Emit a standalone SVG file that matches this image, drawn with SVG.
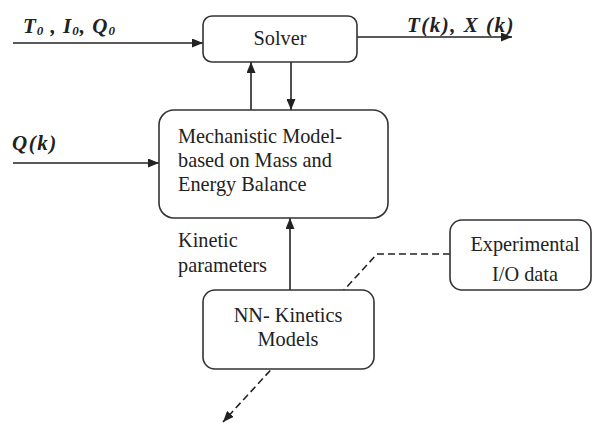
<svg xmlns="http://www.w3.org/2000/svg" width="593" height="423" viewBox="0 0 593 423">
<style>
.box{fill:#fff;stroke:#333;stroke-width:1.6}
.t{font-family:"Liberation Serif","Times New Roman",serif;font-size:20.3px;fill:#222}
.m{font-family:"Liberation Serif","Times New Roman",serif;font-size:21px;font-weight:bold;font-style:italic;fill:#222;letter-spacing:1.5px}
.c{fill:none;stroke:#222;stroke-width:1.6}
.d{fill:none;stroke:#222;stroke-width:1.6;stroke-dasharray:7,4}
</style>
<defs>
<marker id="ah" viewBox="0 0 11 9" refX="11" refY="4.5" markerWidth="11" markerHeight="9" markerUnits="userSpaceOnUse" orient="auto">
<path d="M0,0 L11,4.5 L0,9 z" fill="#222"/>
</marker>
</defs>
<rect width="593" height="423" fill="#fff"/>
<g id="connectors">
<line class="c" x1="13" y1="43" x2="203" y2="43" marker-end="url(#ah)"/>
<line class="c" x1="357" y1="37" x2="512" y2="37" marker-end="url(#ah)"/>
<line class="c" x1="251" y1="110" x2="251" y2="62" marker-end="url(#ah)"/>
<line class="c" x1="291" y1="62" x2="291" y2="110" marker-end="url(#ah)"/>
<line class="c" x1="13" y1="163" x2="159" y2="163" marker-end="url(#ah)"/>
<line class="c" x1="290" y1="290" x2="290" y2="218" marker-end="url(#ah)"/>
<path class="d" d="M450,254 H377 L223,422" marker-end="url(#ah)"/>
</g>
<g id="labels">
<text class="m" x="23" y="33" style="letter-spacing:1px">T<tspan font-size="13" dy="2">0</tspan><tspan dy="-2"> , I</tspan><tspan font-size="13" dy="2">0</tspan><tspan dy="-2">, Q</tspan><tspan font-size="13" dy="2">0</tspan></text>
<text class="m" x="407" y="32">T(k), X (k)</text>
<text class="m" x="12" y="150">Q(k)</text>
<text class="t" x="178" y="247">Kinetic</text>
<text class="t" x="178" y="272">parameters</text>
</g>
<g id="solver">
<rect class="box" x="203" y="16" width="154" height="46" rx="9"/>
<text class="t" x="280" y="45" text-anchor="middle">Solver</text>
</g>
<g id="mechanistic">
<rect class="box" x="159" y="110" width="229" height="108" rx="15"/>
<text class="t" x="178" y="143">Mechanistic Model-</text>
<text class="t" x="178" y="167">based on Mass and</text>
<text class="t" x="178" y="191">Energy Balance</text>
</g>
<g id="nn">
<rect class="box" x="203" y="290" width="171" height="79" rx="12"/>
<text class="t" x="288" y="322" text-anchor="middle">NN- Kinetics</text>
<text class="t" x="288" y="346" text-anchor="middle">Models</text>
</g>
<g id="experimental">
<rect class="box" x="450" y="220" width="141" height="70" rx="12"/>
<text class="t" x="525" y="251" text-anchor="middle">Experimental</text>
<text class="t" x="525" y="281" text-anchor="middle">I/O data</text>
</g>
</svg>
